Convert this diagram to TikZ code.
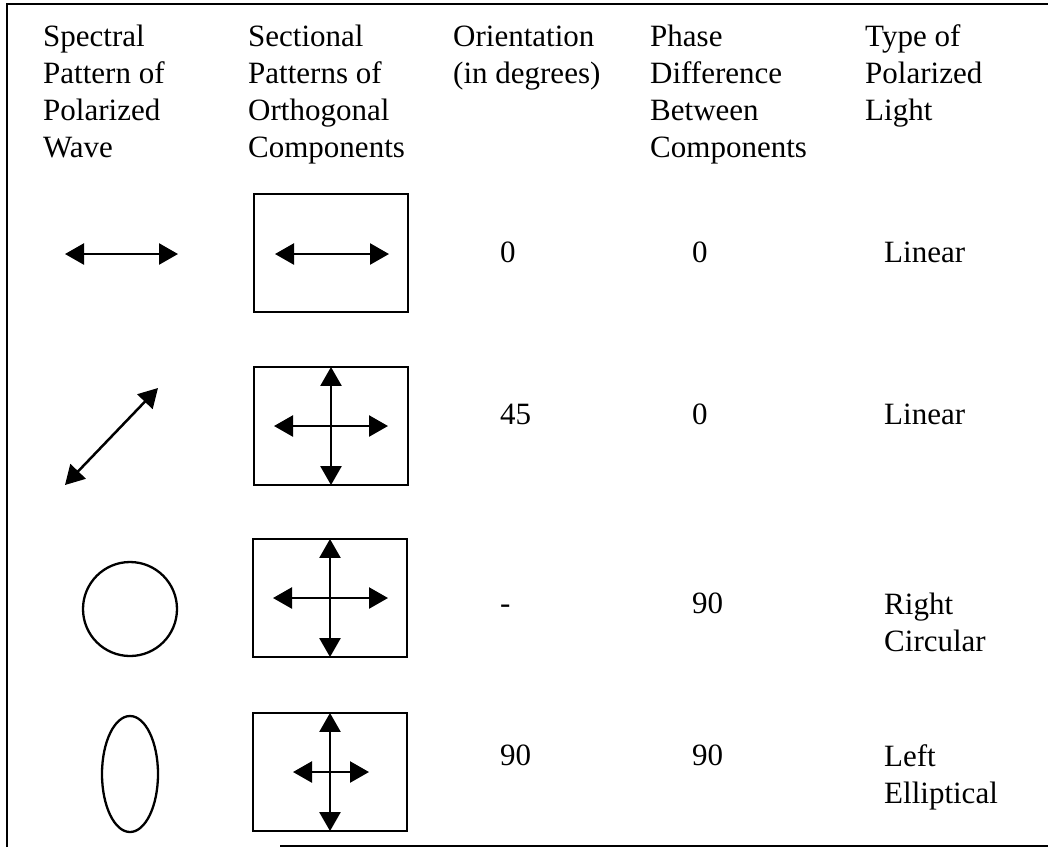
\documentclass[tikz,border=0pt]{standalone}
\usepackage{fontspec}
\setmainfont{Liberation Serif}
\usetikzlibrary{arrows.meta,shapes.geometric}
\begin{document}
\begin{tikzpicture}[x=1pt,y=-1pt,
  txt/.style={anchor=base west,inner sep=0pt,align=left,font=\fontsize{31}{37}\selectfont},
  compbox/.style={draw,line width=2.5pt,inner sep=0pt,minimum width=154pt,minimum height=118pt},
  pol/.style={draw,line width=2.3pt,inner sep=0pt},
  dbl/.style={line width=2.5pt,{Triangle[length=19pt,width=21pt]}-{Triangle[length=19pt,width=21pt]}},
  frame/.style={line width=2pt}]
\useasboundingbox (0,0) rectangle (1048,847);
% frame
\draw[frame] (7,847) -- (7,4) -- (1048,4);
\draw[frame] (280,846) -- (1048,846);
% headers (anchor at baseline of last line)
\node[txt] (h1) at (43,157) {Spectral\\Pattern of\\Polarized\\Wave};
\node[txt] (h2) at (248,157) {Sectional\\Patterns of\\Orthogonal\\Components};
\node[txt] (h3) at (453,83) {Orientation\\(in degrees)};
\node[txt] (h4) at (650,157) {Phase\\Difference\\Between\\Components};
\node[txt] (h5) at (865,120) {Type of\\Polarized\\Light};
% row 1
\coordinate (p1l) at (65,254);
\coordinate (p1r) at (178,254);
\draw[dbl] (p1l) -- (p1r);
\node[compbox] (b1) at (331,253) {};
\coordinate (b1l) at (275,254);
\coordinate (b1r) at (389,254);
\draw[dbl] (b1l) -- (b1r);
\node[txt] (o1) at (500,262) {0};
\node[txt] (d1) at (692,262) {0};
\node[txt] (t1) at (884,262) {Linear};
% row 2
\coordinate (p2a) at (65,485);
\coordinate (p2b) at (158,388);
\draw[dbl] (p2a) -- (p2b);
\node[compbox] (b2) at (331,426) {};
\coordinate (b2l) at (274,426);
\coordinate (b2r) at (388,426);
\draw[dbl] (b2l) -- (b2r);
\draw[dbl,shorten <=1.2pt,shorten >=1.2pt] (b2.north) -- (b2.south);
\node[txt] (o2) at (500,424) {45};
\node[txt] (d2) at (692,424) {0};
\node[txt] (t2) at (884,424) {Linear};
% row 3
\node[pol,circle,minimum size=94pt] (c3) at (130,609) {};
\node[compbox] (b3) at (330,598) {};
\coordinate (b3l) at (273,598);
\coordinate (b3r) at (388,598);
\draw[dbl] (b3l) -- (b3r);
\draw[dbl,shorten <=1.2pt,shorten >=1.2pt] (b3.north) -- (b3.south);
\node[txt] (o3) at (500,613) {-};
\node[txt] (d3) at (692,613) {90};
\node[txt] (t3) at (884,651) {Right\\Circular};
% row 4
\node[pol,ellipse,minimum width=56pt,minimum height=116pt] (e4) at (130,774) {};
\node[compbox] (b4) at (330,772) {};
\coordinate (b4l) at (293,772);
\coordinate (b4r) at (369,772);
\draw[dbl] (b4l) -- (b4r);
\draw[dbl,shorten <=1.2pt,shorten >=1.2pt] (b4.north) -- (b4.south);
\node[txt] (o4) at (500,765) {90};
\node[txt] (d4) at (692,765) {90};
\node[txt] (t4) at (884,803) {Left\\Elliptical};
\end{tikzpicture}
\end{document}
